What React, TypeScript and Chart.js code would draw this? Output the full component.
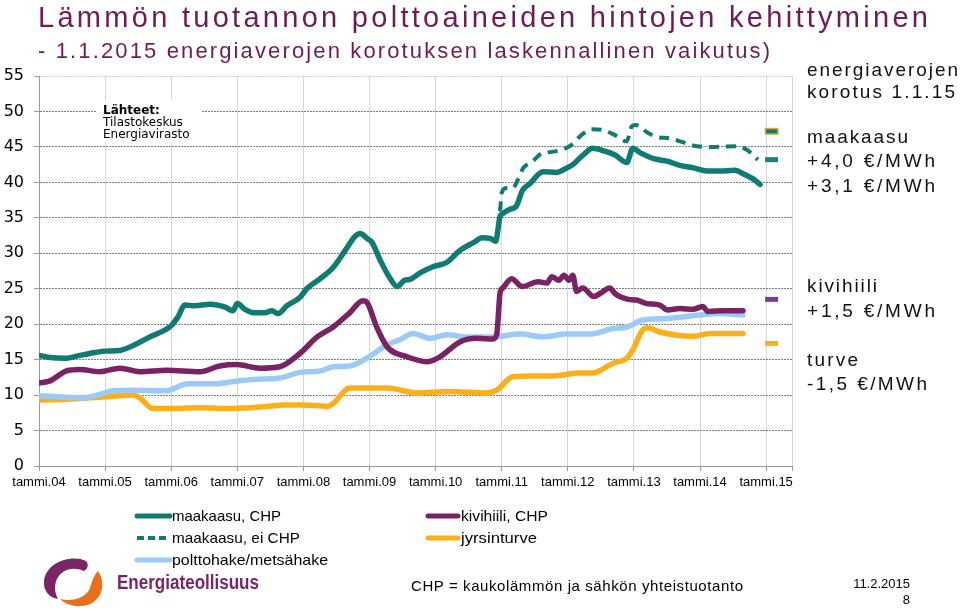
import React, { useEffect, useRef } from "react";
import { Chart, registerables } from "chart.js";

Chart.register(...registerables);

// ---- data (x = months since tammi 2004) ----
const yearTicks = [0, 12, 24, 36, 48, 60, 72, 84, 96, 108, 120, 132];
const xLabels = ["tammi.04", "tammi.05", "tammi.06", "tammi.07", "tammi.08", "tammi.09", "tammi.10", "tammi.11", "tammi.12", "tammi.13", "tammi.14", "tammi.15"];

const gasChpMonths = [0, 2, 4.7, 7.4, 10.2, 12, 14.7, 17.4, 20.1, 22.9, 24, 25.2, 26.5, 28.3, 31, 33.8, 35.2, 36, 37.4, 39.2, 41, 42.3, 43.4, 45, 47.4, 48.6, 51, 53.4, 55.5, 57.4, 58.3, 59.7, 60.4, 61.9, 63.7, 65, 66.4, 67.3, 69.1, 71.5, 74, 76.4, 79.1, 80.4, 81.9, 82.9, 83.7, 84.2, 85.5, 86.6, 87.8, 89.1, 91.5, 94, 95.5, 96.9, 98.7, 100.5, 102.7, 104.5, 106.7, 107.8, 109.1, 111.8, 114, 116.3, 119, 121.2, 123.6, 126.3, 128.1, 130, 130.9];
const gasChpValues = [15.6, 15.3, 15.2, 15.6, 16.0, 16.2, 16.3, 17.1, 18.2, 19.2, 19.8, 21.0, 22.7, 22.6, 22.8, 22.4, 21.9, 22.9, 22.1, 21.6, 21.6, 21.9, 21.5, 22.6, 23.8, 25.0, 26.4, 28.0, 30.3, 32.4, 32.8, 32.0, 31.6, 29.1, 26.5, 25.3, 26.2, 26.3, 27.2, 28.1, 28.7, 30.4, 31.6, 32.2, 32.1, 31.7, 35.2, 35.6, 36.2, 36.6, 38.9, 39.8, 41.5, 41.4, 41.9, 42.5, 43.8, 44.8, 44.4, 43.9, 42.8, 44.8, 44.2, 43.3, 43.0, 42.4, 42.0, 41.6, 41.6, 41.7, 41.1, 40.3, 39.7];

const gasNonChpMonths = [83.7, 84.0, 84.8, 86.0, 86.9, 87.9, 89.5, 91.3, 93.1, 94.9, 96.7, 98.5, 100.4, 102.2, 104.5, 106.7, 107.6, 108.3, 110.5, 112.2, 114.5, 119.4, 121.8, 126.7, 128.5, 130.5];
const gasNonChpValues = [35.9, 38.5, 39.2, 39.2, 40.3, 42.0, 42.9, 44.1, 44.3, 44.6, 45.3, 46.7, 47.5, 47.4, 46.7, 45.8, 47.9, 48.1, 47.0, 46.4, 46.2, 45.1, 45.0, 45.1, 44.6, 43.2];

const coalMonths = [0, 2, 5, 7.4, 11, 14.7, 18.3, 23.2, 29.2, 32.8, 35.9, 40.1, 43.7, 47.4, 50.5, 53.4, 56.4, 58.8, 59.6, 61.3, 63.2, 66.8, 70.4, 72.8, 76.4, 79.5, 82.4, 83.1, 83.7, 84.2, 85.8, 87.7, 90.6, 92.2, 93.1, 94.4, 95.3, 96.2, 96.9, 97.6, 98.7, 100.7, 102, 103.6, 104.6, 105.4, 107, 108.5, 110.3, 112.7, 114.1, 116.3, 118.7, 120.5, 121.4, 124.2, 127.8];
const coalValues = [11.7, 12.0, 13.4, 13.6, 13.3, 13.8, 13.3, 13.5, 13.3, 14.1, 14.3, 13.8, 14.0, 15.9, 18.2, 19.6, 21.6, 23.3, 23.0, 19.6, 16.8, 15.4, 14.7, 15.4, 17.5, 18.0, 17.9, 18.6, 24.4, 25.1, 26.4, 25.3, 26.0, 25.8, 26.7, 26.2, 26.9, 26.2, 26.9, 24.6, 25.1, 23.9, 24.4, 25.1, 24.3, 23.9, 23.5, 23.4, 22.9, 22.7, 22.0, 22.2, 22.1, 22.5, 21.8, 21.9, 21.9];

const chipsMonths = [0, 5, 8, 11, 13.4, 17, 23.2, 25.6, 26.9, 32.3, 35.2, 38.8, 43.7, 47.4, 51, 53.4, 56.4, 59.5, 63.2, 65.5, 67.9, 71, 74, 77.7, 82.4, 87.3, 91.5, 95.8, 100, 104.2, 106.7, 109.6, 114, 120, 123.6, 127.8];
const chipsValues = [9.9, 9.7, 9.6, 10.1, 10.6, 10.7, 10.6, 11.3, 11.6, 11.6, 11.9, 12.2, 12.4, 13.2, 13.4, 14.0, 14.1, 15.2, 17.1, 17.8, 18.7, 18.0, 18.5, 18.2, 18.2, 18.6, 18.2, 18.6, 18.6, 19.4, 19.6, 20.6, 20.8, 21.3, 21.5, 21.3];

const peatMonths = [0, 5, 11, 14.7, 17, 18.3, 20.7, 23.2, 29.2, 35.2, 41.4, 44.3, 47.4, 51, 52.3, 53.4, 56.4, 59.5, 63.2, 68.6, 74.6, 81.3, 83.1, 86, 89.7, 93.3, 98.2, 100.5, 104.2, 106.7, 107.8, 109.6, 110.5, 112.7, 118.7, 121.8, 127.8];
const peatValues = [9.3, 9.4, 9.7, 9.9, 10.0, 9.6, 8.1, 8.1, 8.2, 8.1, 8.4, 8.6, 8.6, 8.5, 8.4, 8.8, 11.0, 11.0, 11.0, 10.3, 10.5, 10.3, 10.7, 12.6, 12.7, 12.7, 13.1, 13.1, 14.5, 15.2, 16.4, 19.2, 19.5, 18.9, 18.3, 18.7, 18.7];

// price level after the 1.1.2015 tax change (markers at helmi 2015)
const markerMonth = 133;
const markerValues = [47.2, 43.2, 23.5, 17.3];
const markerColors = ["#117a72", "#1a7d8a", "#7d3a94", "#f2b31c"];
const markerBorders = ["#e8a33a", null, null, null];

const TEAL = "#0f7b73";
const PURPLE = "#7a2263";
const LIGHTBLUE = "#9ccaf6";
const ORANGE = "#fbb018";

const pts = (xs: number[], ys: number[]) => xs.map((x, i) => ({ x, y: ys[i] }));

const markerPlugin = {
  id: "taxMarkers",
  afterDatasetsDraw(chart: any) {
    const { ctx, scales } = chart;
    const x = scales.x.getPixelForValue(markerMonth);
    markerValues.forEach((v, i) => {
      const y = scales.y.getPixelForValue(v);
      ctx.save();
      if (markerBorders[i]) {
        ctx.fillStyle = markerBorders[i];
        ctx.fillRect(x - 7, y - 3.5, 14, 7);
        ctx.fillStyle = markerColors[i];
        ctx.fillRect(x - 5.5, y - 2, 11, 4);
      } else {
        ctx.fillStyle = markerColors[i];
        ctx.fillRect(x - 6.5, y - 2.5, 13, 5);
      }
      ctx.restore();
    });
  },
};

function ChartCanvas() {
  const ref = useRef<HTMLCanvasElement | null>(null);
  useEffect(() => {
    if (!ref.current) return;
    const common = {
      pointRadius: 0,
      borderWidth: 5.5,
      fill: false,
      cubicInterpolationMode: "monotone" as const,
      borderCapStyle: "round" as const,
      borderJoinStyle: "round" as const,
    };
    const chart = new Chart(ref.current, {
      type: "line",
      data: {
        datasets: [
          { ...common, label: "maakaasu, CHP", data: pts(gasChpMonths, gasChpValues), borderColor: TEAL },
          { ...common, label: "maakaasu, ei CHP", data: pts(gasNonChpMonths, gasNonChpValues), borderColor: TEAL, borderWidth: 4, borderDash: [10, 7], borderCapStyle: "butt" },
          { ...common, label: "kivihiili, CHP", data: pts(coalMonths, coalValues), borderColor: PURPLE },
          { ...common, label: "polttohake/metsähake", data: pts(chipsMonths, chipsValues), borderColor: LIGHTBLUE },
          { ...common, label: "jyrsinturve", data: pts(peatMonths, peatValues), borderColor: ORANGE },
        ],
      },
      options: {
        animation: false,
        responsive: true,
        maintainAspectRatio: false,
        layout: { padding: { top: 76, right: 168, left: 0, bottom: 0 } },
        plugins: { legend: { display: false }, tooltip: { enabled: false } },
        scales: {
          x: {
            type: "linear",
            min: 0,
            max: 136.7,
            afterBuildTicks: (s: any) => {
              s.ticks = [...yearTicks, 136.7].map((v) => ({ value: v }));
            },
            afterFit: (s: any) => {
              s.height = 145;
            },
            grid: { color: "#d6d6d6", tickLength: 5, tickColor: "#9a9a9a" },
            border: { color: "#9a9a9a" },
            ticks: {
              autoSkip: false,
              maxRotation: 0,
              padding: 4,
              color: "#000",
              font: { family: "Liberation Sans", size: 13 },
              callback: (v: any) => {
                const i = yearTicks.indexOf(Number(v));
                return i >= 0 ? xLabels[i] : "";
              },
            },
          },
          y: {
            min: 0,
            max: 55,
            afterFit: (s: any) => {
              s.width = 39;
            },
            grid: {
              color: (c: any) => (c.tick && c.tick.value === 55 ? "#cfcfcf" : "#7d7d7d"),
              tickLength: 5,
              tickColor: "#9a9a9a",
            },
            border: { color: "#9a9a9a", dash: [2, 1] },
            ticks: {
              stepSize: 5,
              padding: 10,
              color: "#000",
              font: { family: "DejaVu Sans", size: 16 },
            },
          },
        },
      },
      plugins: [markerPlugin],
    });
    return () => chart.destroy();
  }, []);
  return <canvas ref={ref} />;
}

export default function App() {
  const txt = { fontFamily: "Liberation Sans, Arial, sans-serif" };
  return (
    <div style={{ position: "absolute", left: 0, top: 0, width: 960, height: 611, background: "#fff", overflow: "hidden" }}>
      <div style={{ position: "absolute", left: 0, top: 0, width: 960, height: 611 }}>
        <ChartCanvas />
      </div>
      <svg width={960} height={611} style={{ position: "absolute", left: 0, top: 0, pointerEvents: "none" }}>
        {/* title */}
        <text x={38} y={27} fontSize={29} fill="#6f1b57" textLength={890} lengthAdjust="spacing" style={txt}>
          Lämmön tuotannon polttoaineiden hintojen kehittyminen
        </text>
        <text x={38} y={58} fontSize={22} fill="#6f1b57" textLength={732} lengthAdjust="spacing" style={txt}>
          - 1.1.2015 energiaverojen korotuksen laskennallinen vaikutus)
        </text>

        {/* sources box */}
        <rect x={97} y={100} width={105} height={42} fill="#fff" />
        <text x={103} y={114} fontSize={12} fontWeight="bold" fill="#000" style={{ fontFamily: "DejaVu Sans" }}>Lähteet:</text>
        <text x={103} y={126} fontSize={12} fill="#000" style={{ fontFamily: "DejaVu Sans" }}>Tilastokeskus</text>
        <text x={103} y={138} fontSize={12} fill="#000" style={{ fontFamily: "DejaVu Sans" }}>Energiavirasto</text>

        {/* right annotations */}
        <g fontSize={19} fill="#111" style={txt}>
          <text x={807} y={76} textLength={151} lengthAdjust="spacing">energiaverojen</text>
          <text x={807} y={98} textLength={148} lengthAdjust="spacing">korotus 1.1.15</text>
          <text x={807} y={143} textLength={101} lengthAdjust="spacing">maakaasu</text>
          <text x={807} y={167} textLength={128} lengthAdjust="spacing">+4,0 €/MWh</text>
          <text x={807} y={192} textLength={128} lengthAdjust="spacing">+3,1 €/MWh</text>
          <text x={807} y={292} textLength={70} lengthAdjust="spacing">kivihiili</text>
          <text x={807} y={317} textLength={128} lengthAdjust="spacing">+1,5 €/MWh</text>
          <text x={807} y={366} textLength={51} lengthAdjust="spacing">turve</text>
          <text x={807} y={390} textLength={120} lengthAdjust="spacing">-1,5 €/MWh</text>
        </g>

        {/* legend */}
        <g strokeWidth={5}>
          <line x1={137} y1={516} x2={170} y2={516} stroke={TEAL} strokeLinecap="round" />
          <line x1={137} y1={538} x2={170} y2={538} stroke={TEAL} strokeDasharray="7,4" strokeWidth={4} />
          <line x1={137} y1={560} x2={170} y2={560} stroke={LIGHTBLUE} strokeLinecap="round" />
          <line x1={428} y1={516} x2={458} y2={516} stroke={PURPLE} strokeLinecap="round" />
          <line x1={428} y1={538} x2={458} y2={538} stroke={ORANGE} strokeLinecap="round" />
        </g>
        <g fontSize={15} fill="#000" style={txt}>
          <text x={172} y={521} textLength={109} lengthAdjust="spacingAndGlyphs">maakaasu, CHP</text>
          <text x={172} y={543} textLength={128} lengthAdjust="spacingAndGlyphs">maakaasu, ei CHP</text>
          <text x={172} y={565} textLength={156} lengthAdjust="spacingAndGlyphs">polttohake/metsähake</text>
          <text x={461} y={521} textLength={87} lengthAdjust="spacingAndGlyphs">kivihiili, CHP</text>
          <text x={461} y={543} textLength={76} lengthAdjust="spacingAndGlyphs">jyrsinturve</text>
        </g>

        {/* logo */}
        <path d="M86 561 C72 554 46 562 44 581 C43 591 50 598 58 599 C53 590 54 578 63 572 C69 568 77 568 84 571 C88 569 89 564 86 561 Z" fill="#7b2466" />
        <path d="M98 571 C107 584 102 604 82 606 C72 607 64 603 60 599 C72 602 86 598 90 588 C92 581 94 575 98 571 Z" fill="#e8701c" />
        <text x={117} y={589} fontSize={20} fontWeight="bold" fill="#7b2466" textLength={142} lengthAdjust="spacingAndGlyphs" style={txt}>
          Energiateollisuus
        </text>

        {/* footer */}
        <text x={411} y={591} fontSize={15} fill="#000" textLength={332} lengthAdjust="spacing" style={txt}>
          CHP = kaukolämmön ja sähkön yhteistuotanto
        </text>
        <text x={910} y={588} fontSize={13} fill="#000" textAnchor="end" style={txt}>11.2.2015</text>
        <text x={910} y={604} fontSize={13} fill="#000" textAnchor="end" style={txt}>8</text>
      </svg>
    </div>
  );
}
